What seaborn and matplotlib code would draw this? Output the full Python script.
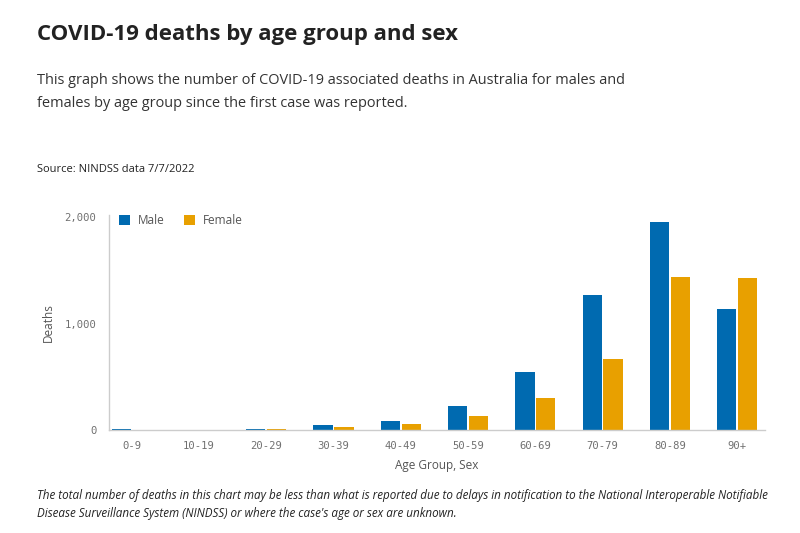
import matplotlib
matplotlib.use("Agg")
import matplotlib.pyplot as plt
import seaborn as sns
import pandas as pd

age_groups = ["0-9", "10-19", "20-29", "30-39", "40-49", "50-59", "60-69", "70-79", "80-89", "90+"]
male_deaths = [5, 4, 12, 44, 88, 229, 548, 1269, 1958, 1137]
female_deaths = [4, 3, 9, 25, 56, 135, 301, 670, 1441, 1432]
series_names = ["Male", "Female"]
colors = {"Male": "#006AB0", "Female": "#E8A000"}

df = pd.DataFrame({
    "Age Group": age_groups * 2,
    "Sex": [series_names[0]] * len(age_groups) + [series_names[1]] * len(age_groups),
    "Deaths": male_deaths + female_deaths,
})

sns.set_theme(style="white")
plt.rcParams["font.family"] = ["Open Sans", "DejaVu Sans"]

fig = plt.figure(figsize=(8, 5.33), dpi=100)
ax = fig.add_axes([0.136, 0.1932, 0.82, 0.4034])

sns.barplot(data=df, x="Age Group", y="Deaths", hue="Sex", palette=colors,
            width=0.62, gap=0.08, ax=ax, saturation=1, edgecolor="none", linewidth=0)

ax.set_xlim(-0.34, 9.41)
ax.set_ylim(0, 2020)
ax.set_yticks([0, 1000, 2000])
ax.set_yticklabels(["0", "1,000", "2,000"])

for s in ["top", "right"]:
    ax.spines[s].set_visible(False)
ax.spines["left"].set_color("#cccccc")
ax.spines["bottom"].set_color("#cccccc")
ax.spines["left"].set_linewidth(1)
ax.spines["bottom"].set_linewidth(1)

ax.tick_params(axis="y", length=6, color="#cccccc", width=1, pad=3)
ax.tick_params(axis="x", length=0, pad=8)
for lab in ax.get_xticklabels() + ax.get_yticklabels():
    lab.set_family("DejaVu Sans Mono")
    lab.set_fontsize(7.6)
    lab.set_color("#707070")

ax.set_xlabel("Age Group, Sex", fontsize=8.5, color="#555555", labelpad=6)
ax.set_ylabel("Deaths", fontsize=8.5, color="#555555", labelpad=7)

leg = ax.legend(loc="upper left", bbox_to_anchor=(0.0, 1.055), ncol=2, frameon=False,
                handlelength=0.9, handleheight=0.9, handletextpad=0.7, columnspacing=1.6,
                fontsize=8.5)
for t in leg.get_texts():
    t.set_color("#555555")

fig.text(0.046, 0.925, "COVID-19 deaths by age group and sex", fontsize=16,
         fontweight="bold", color="#222222", va="baseline")
fig.text(0.046, 0.843, "This graph shows the number of COVID-19 associated deaths in Australia for males and",
         fontsize=10.45, color="#333333", va="baseline")
fig.text(0.046, 0.800, "females by age group since the first case was reported.",
         fontsize=10.45, color="#333333", va="baseline")
fig.text(0.046, 0.677, "Source: NINDSS data 7/7/2022", fontsize=8.0, color="#222222", va="baseline")
fig.text(0.046, 0.064, "The total number of deaths in this chart may be less than what is reported due to delays in notification to the National Interoperable Notifiable",
         fontsize=8.4, style="italic", color="#222222", va="baseline")
fig.text(0.046, 0.030, "Disease Surveillance System (NINDSS) or where the case's age or sex are unknown.",
         fontsize=8.4, style="italic", color="#222222", va="baseline")

fig.savefig("out.png", dpi=100, facecolor="white")
